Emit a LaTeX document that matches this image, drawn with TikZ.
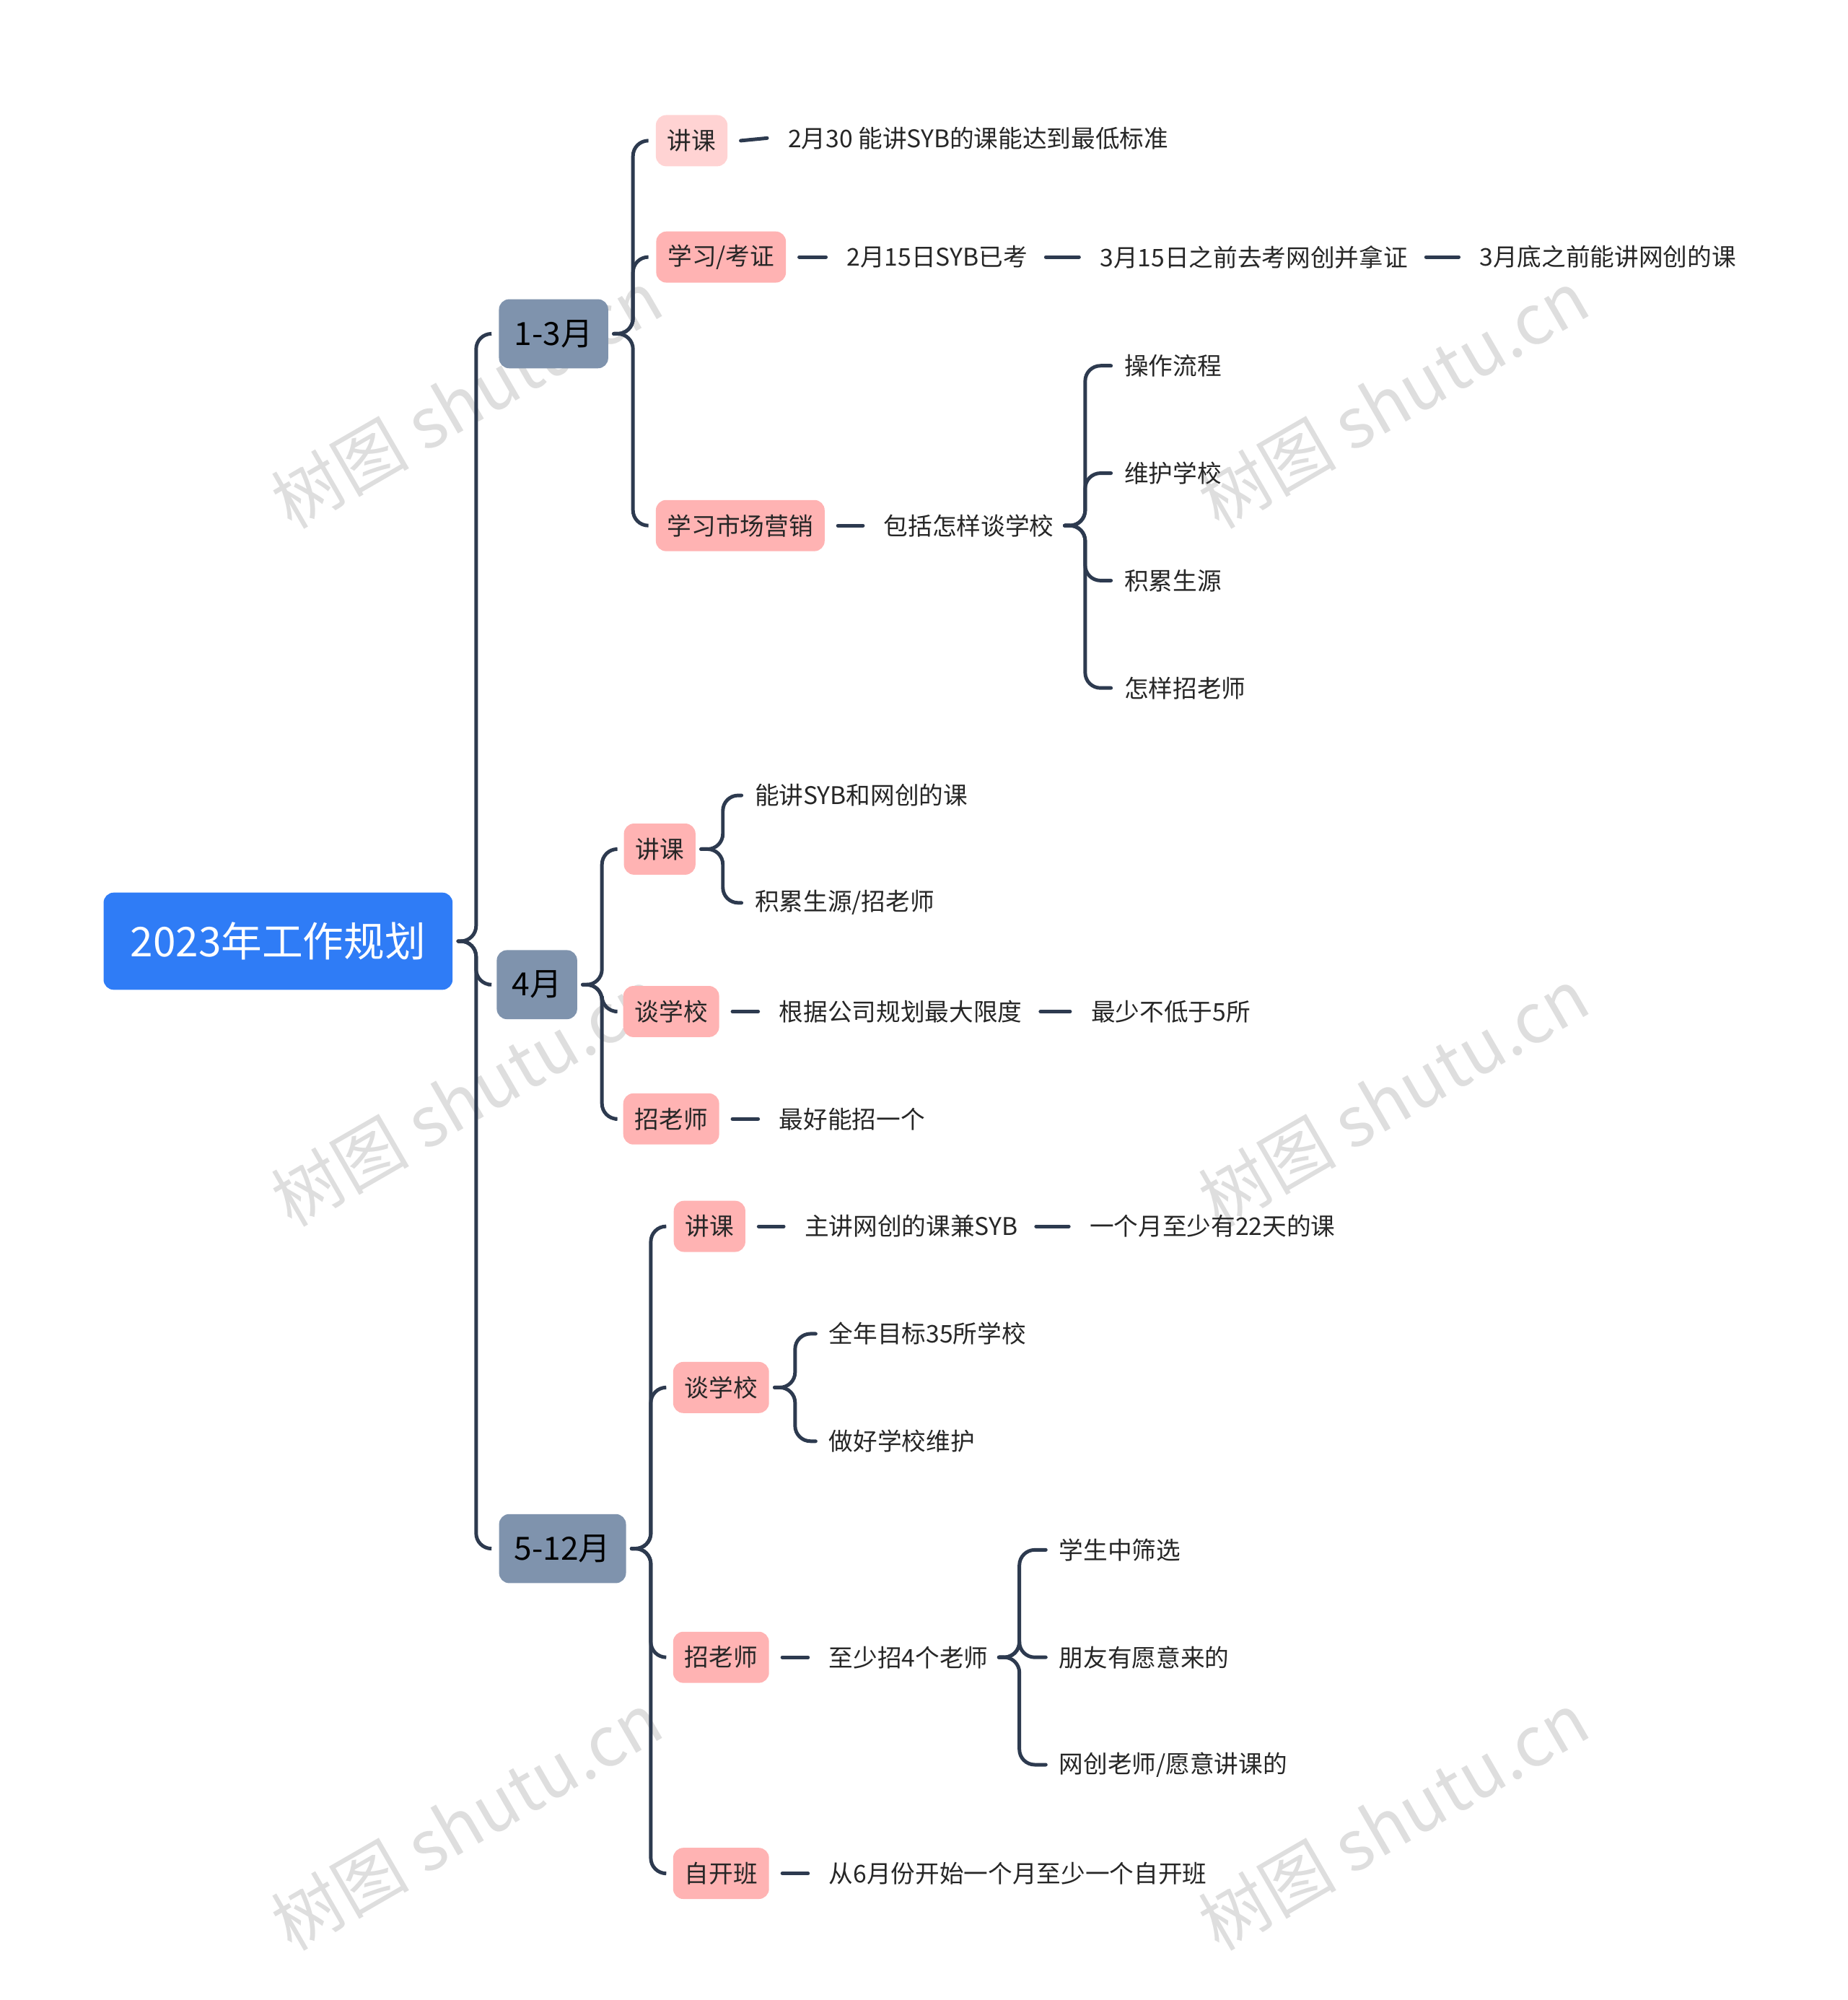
\documentclass[tikz,border=0pt]{standalone}
\usepackage{fontspec}
\setmainfont{Noto Sans CJK SC}
\usepackage{tikz}
\usetikzlibrary{calc}

\definecolor{RootBlue}{HTML}{2F7CF6}
\definecolor{StageGray}{HTML}{7F93AD}
\definecolor{TaskPink}{HTML}{FFB3B3}
\definecolor{TaskLight}{HTML}{FFD3D3}
\definecolor{LinkDark}{HTML}{2D3A4F}
\definecolor{MarkGray}{HTML}{DEDEDE}

\tikzset{
  root/.style={fill=RootBlue, rounded corners=4pt, text=white, font=\fontsize{16}{19}\selectfont,
    minimum height=38pt, minimum width=136.5pt, align=center, inner sep=0pt},
  stage/.style={fill=StageGray, rounded corners=4pt, text=black, font=\fontsize{12.5}{15}\selectfont,
    minimum height=27pt, inner xsep=6pt},
  task/.style={fill=TaskPink, rounded corners=4pt, text=black!85, font=\fontsize{9.5}{12}\selectfont,
    minimum height=20pt, inner xsep=4.5pt},
  leaf/.style={anchor=west, text=black!85, font=\fontsize{9.5}{12}\selectfont, inner sep=2pt},
  link/.style={draw=LinkDark, line width=1.4pt, line cap=round},
  watermark/.style={text=MarkGray, font=\fontsize{27}{30}\selectfont, rotate=30}
}

% parent, child, bracket offset (pt)
\newcommand{\branch}[3]{\draw[link, rounded corners=6pt] ([xshift=2pt]#1.east) -- ([xshift=#3pt]#1.east) |- ([xshift=-3pt]#2.west);}
\newcommand{\joinline}[2]{\draw[link] ([xshift=5pt]#1.east) -- ([xshift=-6pt]#2.west);}

\begin{document}
\begin{tikzpicture}[x=0.5pt, y=-0.5pt]
    \useasboundingbox (0,0) rectangle (1445,1564);

    %Watermarks
    \foreach \wx/\wy [count=\i] in {365/312, 1090/312, 365/858, 1090/858, 365/1424, 1090/1424}
      \node[watermark] (mark\i) at (\wx,\wy) {树图 shutu.cn};

    %Root and stages
    \node[root] (plan) at (217.5,736) {2023年工作规划};
    \node[stage] (q1) at (433,261) {1-3月};
    \node[stage] (apr) at (420,770) {4月};
    \node[stage] (rest) at (440,1211) {5-12月};
    \branch{plan}{q1}{9}
    \branch{plan}{apr}{9}
    \branch{plan}{rest}{9}

    %1-3月
    \node[task, fill=TaskLight] (q1teach) at (541,110) {讲课};
    \node[task] (q1study) at (564,201) {学习/考证};
    \node[task] (q1market) at (579,411) {学习市场营销};
    \branch{q1}{q1teach}{9.5}
    \branch{q1}{q1study}{9.5}
    \branch{q1}{q1market}{9.5}

    \node[leaf] (q1a) at (612,108) {2月30 能讲SYB的课能达到最低标准};
    \joinline{q1teach}{q1a}
    \node[leaf] (q1b) at (658,201) {2月15日SYB已考};
    \node[leaf] (q1c) at (856,201) {3月15日之前去考网创并拿证};
    \node[leaf] (q1d) at (1153,201) {3月底之前能讲网创的课};
    \joinline{q1study}{q1b}
    \joinline{q1b}{q1c}
    \joinline{q1c}{q1d}
    \node[leaf] (q1e) at (687,411) {包括怎样谈学校};
    \joinline{q1market}{q1e}
    \node[leaf] (q1f) at (875,286) {操作流程};
    \node[leaf] (q1g) at (875,370) {维护学校};
    \node[leaf] (q1h) at (875,454) {积累生源};
    \node[leaf] (q1i) at (875,538) {怎样招老师};
    \foreach \n in {q1f,q1g,q1h,q1i} {\branch{q1e}{\n}{10}}

    %4月
    \node[task] (aprteach) at (516,664) {讲课};
    \node[task] (aprtalk) at (525,791) {谈学校};
    \node[task] (aprhire) at (525,875) {招老师};
    \branch{apr}{aprteach}{9.5}
    \branch{apr}{aprtalk}{9.5}
    \branch{apr}{aprhire}{9.5}

    \node[leaf] (apra) at (586,622) {能讲SYB和网创的课};
    \node[leaf] (aprb) at (586,706) {积累生源/招老师};
    \branch{aprteach}{apra}{10.5}
    \branch{aprteach}{aprb}{10.5}
    \node[leaf] (aprc) at (605,791) {根据公司规划最大限度};
    \node[leaf] (aprd) at (849,791) {最少不低于5所};
    \joinline{aprtalk}{aprc}
    \joinline{aprc}{aprd}
    \node[leaf] (apre) at (605,875) {最好能招一个};
    \joinline{aprhire}{apre}

    %5-12月
    \node[task] (restteach) at (555,959) {讲课};
    \node[task] (resttalk) at (564,1085) {谈学校};
    \node[task] (resthire) at (564,1296) {招老师};
    \node[task] (restclass) at (564,1465) {自开班};
    \branch{rest}{restteach}{9.5}
    \branch{rest}{resttalk}{9.5}
    \branch{rest}{resthire}{9.5}
    \branch{rest}{restclass}{9.5}

    \node[leaf] (resta) at (625,959) {主讲网创的课兼SYB};
    \node[leaf] (restb) at (848,959) {一个月至少有22天的课};
    \joinline{restteach}{resta}
    \joinline{resta}{restb}
    \node[leaf] (restc) at (644,1043) {全年目标35所学校};
    \node[leaf] (restd) at (644,1127) {做好学校维护};
    \branch{resttalk}{restc}{10}
    \branch{resttalk}{restd}{10}
    \node[leaf] (reste) at (644,1296) {至少招4个老师};
    \joinline{resthire}{reste}
    \node[leaf] (restf) at (824,1212) {学生中筛选};
    \node[leaf] (restg) at (824,1296) {朋友有愿意来的};
    \node[leaf] (resth) at (824,1380) {网创老师/愿意讲课的};
    \foreach \n in {restf,restg,resth} {\branch{reste}{\n}{10}}
    \node[leaf] (resti) at (644,1465) {从6月份开始一个月至少一个自开班};
    \joinline{restclass}{resti}

\end{tikzpicture}
\end{document}
